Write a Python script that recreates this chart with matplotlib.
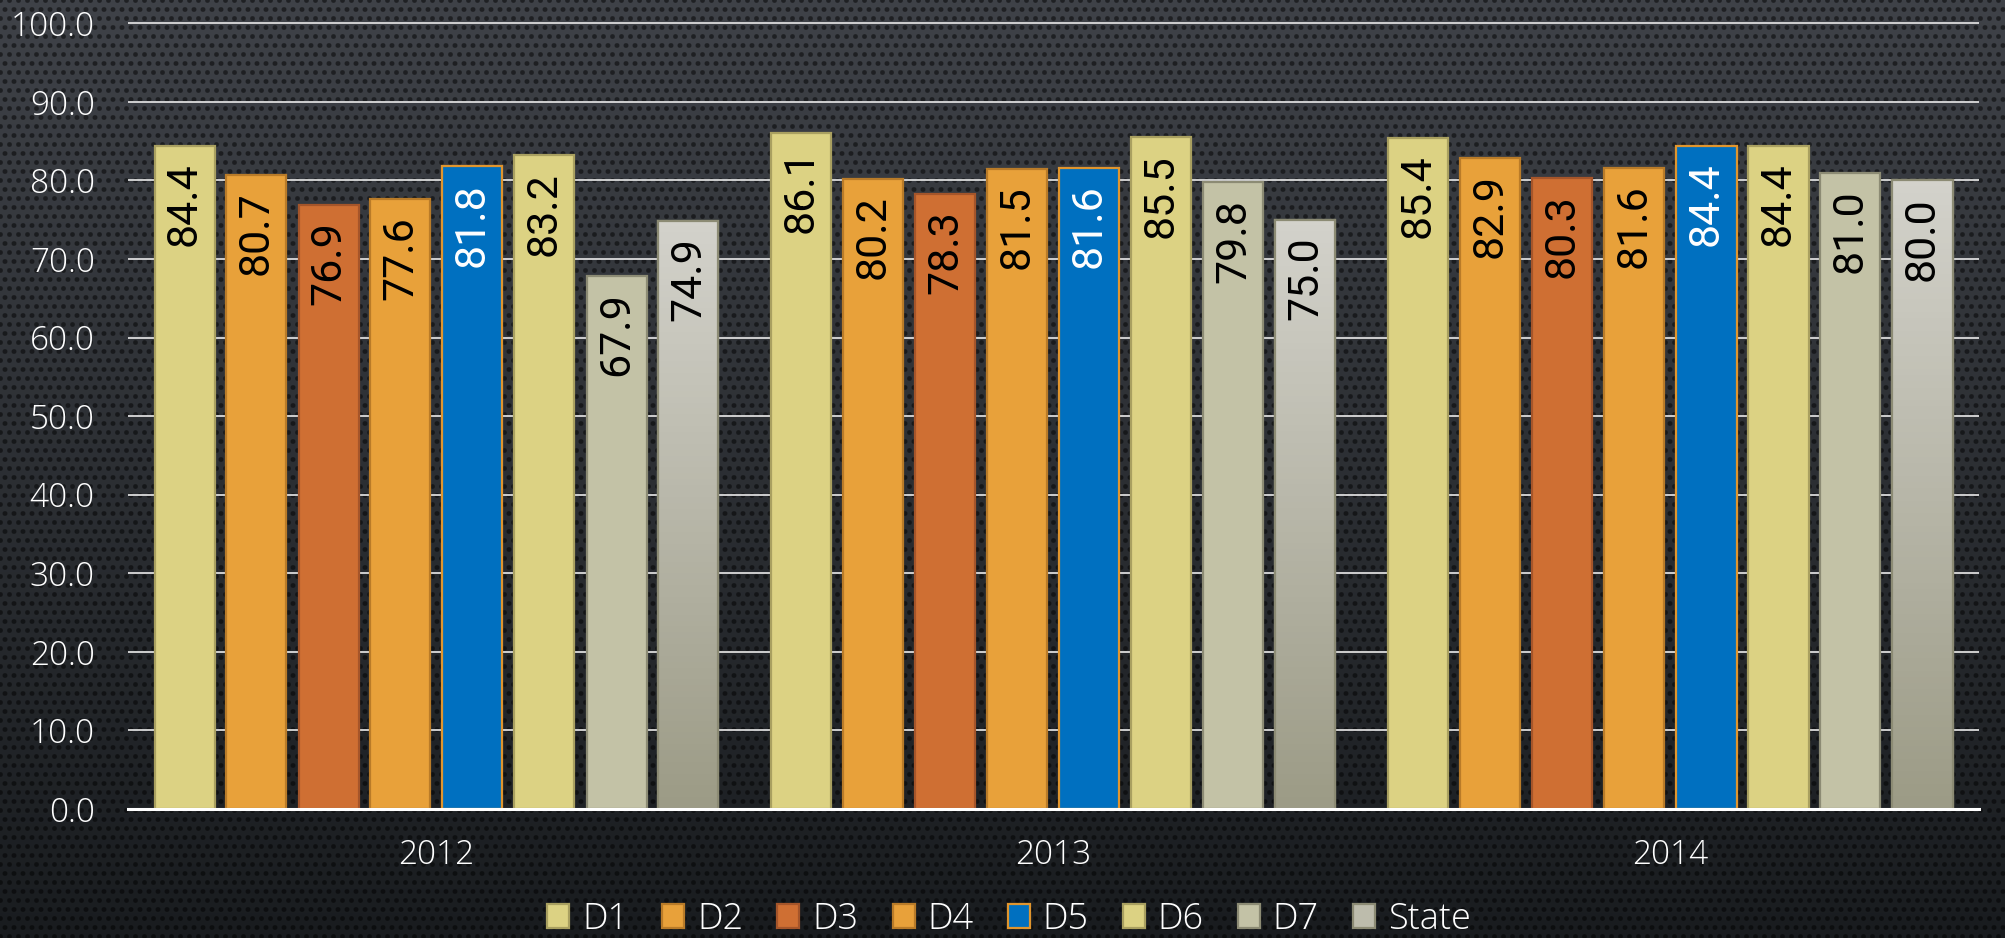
import numpy as np
import matplotlib.pyplot as plt
from matplotlib.colors import LinearSegmentedColormap

years = ['2012', '2013', '2014']
series = ['D1', 'D2', 'D3', 'D4', 'D5', 'D6', 'D7', 'State']
d1 = [84.4, 86.1, 85.4]
d2 = [80.7, 80.2, 82.9]
d3 = [76.9, 78.3, 80.3]
d4 = [77.6, 81.5, 81.6]
d5 = [81.8, 81.6, 84.4]
d6 = [83.2, 85.5, 84.4]
d7 = [67.9, 79.8, 81.0]
state = [74.9, 75.0, 80.0]
values = [d1, d2, d3, d4, d5, d6, d7, state]

fills = ['#dcd283', '#e8a13a', '#cf6f33', '#e8a13a', '#0070c0', '#dcd283', '#c3c2a6', '#bdbcac']
edges = ['#a9a060', '#b97b28', '#a5552a', '#b97b28', '#e0952e', '#a9a060', '#8c8b74', '#8c8b74']
label_colors = ['black'] * 4 + ['white'] + ['black'] * 3

W, H = 2005, 938
fig = plt.figure(figsize=(W / 100, H / 100), dpi=100)

# carbon-fibre style background: vertical gradient + dot grid
yy, xx = np.mgrid[0:H, 0:W].astype(float)
t = (yy / (H - 1))[..., None]
top = np.array([63, 66, 72]) / 255
bot = np.array([25, 28, 31]) / 255
base = top * (1 - t) + bot * t
sp = 9.0
j = np.round(yy / sp)
shift = (j % 2) * sp / 2
cx = np.round((xx - shift) / sp) * sp + shift
d = np.hypot(xx - cx, yy - j * sp)
dot = np.clip(1 - (d - 1.8) / 1.2, 0, 1)
base = base * (1 - 0.5 * dot[..., None])
bgax = fig.add_axes([0, 0, 1, 1])
bgax.imshow(base, aspect='auto', interpolation='nearest')
bgax.axis('off')

ytop = 100.3
ax_h = 785.7 * ytop / 100
ax = fig.add_axes([128 / W, (H - 809) / H, (1979 - 128) / W, ax_h / H])
ax.patch.set_alpha(0)

x = np.arange(len(years))
pitch = 72 / 617
width = 60 / 617
state_grad = LinearSegmentedColormap.from_list('sg', ['#9c9b86', '#d3d2cb'])

handles = []
for k, name in enumerate(series):
    xpos = x + (k - 3.5) * pitch
    bars = ax.bar(xpos, values[k], width, color=fills[k], edgecolor=edges[k],
                  linewidth=1.6, zorder=3, label=name)
    handles.append(bars)
    if name == 'State':
        for p in bars.patches:
            im = ax.imshow(np.linspace(0, 1, 100)[::-1, None], cmap=state_grad,
                           extent=[p.get_x(), p.get_x() + p.get_width(), 0, p.get_height()],
                           aspect='auto', zorder=3.5, origin='upper')
            im.set_clip_path(p)
        ax.bar(xpos, values[k], width, facecolor='none', edgecolor=edges[k],
               linewidth=1.6, zorder=4)
    for xi, v in zip(xpos, values[k]):
        ax.annotate(f'{v:.1f}', (xi, v), xytext=(0, -12), textcoords='offset points',
                    rotation=90, ha='center', va='top', fontsize=31,
                    color=label_colors[k], family='Roboto', zorder=5)

ax.set_xlim(-0.5, 2.5)
ax.set_ylim(0, ytop)
ax.set_yticks(np.arange(0, 101, 10))
ax.set_yticklabels([f'{v:.1f}' for v in np.arange(0, 101, 10)])
ax.set_xticks(x)
ax.set_xticklabels(years)
ax.yaxis.grid(True, color='#dcdcdc', linewidth=1.3)
ax.set_axisbelow(True)
for s in ['top', 'right', 'left']:
    ax.spines[s].set_visible(False)
ax.spines['bottom'].set_color('white')
ax.spines['bottom'].set_linewidth(2.2)
ax.spines['bottom'].set_zorder(6)
ax.tick_params(axis='y', length=0, pad=24, labelsize=24, labelcolor='white')
ax.tick_params(axis='x', length=0, pad=21, labelsize=24, labelcolor='white')
for lab in ax.get_xticklabels() + ax.get_yticklabels():
    lab.set_family('Open Sans')
    lab.set_weight('light')

leg = fig.legend(handles, series, loc='center', bbox_to_anchor=(1009 / W, 1 - 919 / H),
                 ncol=8, frameon=False, labelcolor='white',
                 handlelength=0.61, handleheight=0.66, handletextpad=0.36,
                 columnspacing=0.94, borderaxespad=0,
                 prop={'family': 'Open Sans', 'size': 26, 'weight': 'light'})

fig.savefig('out.png', dpi=100)
